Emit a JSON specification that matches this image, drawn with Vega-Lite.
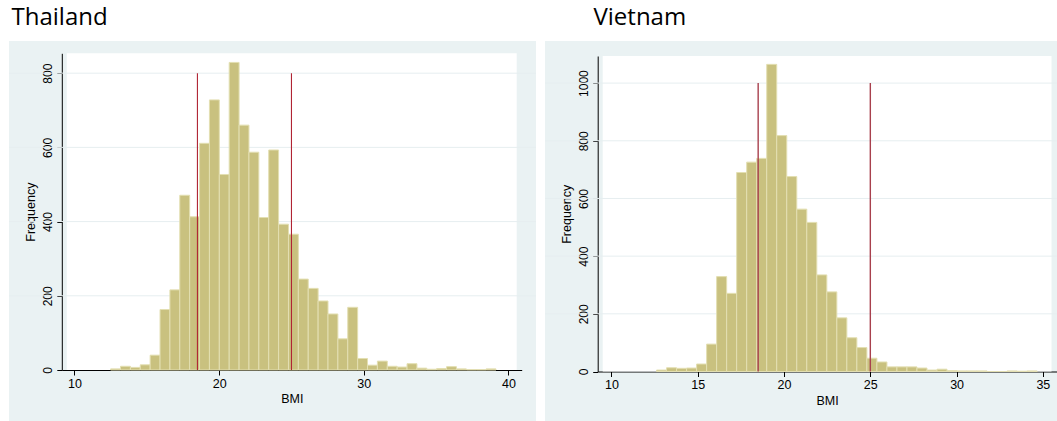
{
  "$schema": "https://vega.github.io/schema/vega-lite/v6.json",
  "background": "white",
  "padding": {"left": 8, "top": 6, "right": 0, "bottom": 0},
  "spacing": 9,
  "bounds": "flush",
  "config": {
    "font": "Liberation Sans",
    "view": {"stroke": null},
    "axis": {
      "grid": false,
      "domainColor": "#000000",
      "domainWidth": 1,
      "tickColor": "#000000",
      "tickSize": 5,
      "tickWidth": 1,
      "labelFont": "Liberation Sans",
      "labelFontSize": 12.5,
      "labelColor": "#000000",
      "labelPadding": 2,
      "labelFlush": false,
      "labelOverlap": false,
      "titleFont": "Liberation Sans",
      "titleFontSize": 12.5,
      "titleFontWeight": "normal",
      "titleColor": "#000000",
      "titlePadding": 3
    },
    "axisY": {"labelAngle": 270, "labelAlign": "center", "labelBaseline": "bottom", "labelFontSize": 12, "titlePadding": 4, "format": "d"},
    "title": {"font": "Open Sans", "fontSize": 24, "fontWeight": "normal", "color": "#000000", "anchor": "start", "baseline": "alphabetic", "offset": 11}
  },
  "hconcat": [
    {
      "width": 527,
      "height": 380,
      "view": {"fill": "#EAF2F3", "stroke": null},
      "title": {"text": "Thailand", "dx": 3},
      "layer": [
        {
          "data": {"values": [{"bmi_min": 9.47, "bmi_max": 40.57, "freq_min": 0, "freq_max": 853.6}]},
          "mark": {"type": "rect", "fill": "#FFFFFF"},
          "encoding": {
            "x": {"field": "bmi_min", "type": "quantitative", "title": "BMI",
                  "scale": {"domain": [9.47, 40.57], "range": [52.8, 512.7], "nice": false, "zero": false},
                  "axis": {"values": [10, 20, 30, 40], "offset": -51}},
            "x2": {"field": "bmi_max"},
            "y": {"field": "freq_min", "type": "quantitative", "title": "Frequency",
                  "scale": {"domain": [0, 853.6], "range": [329, 12.3], "nice": false, "zero": false},
                  "axis": {"values": [0, 200, 400, 600, 800], "offset": -52.8}},
            "y2": {"field": "freq_max"}
          }
        },
        {
          "data": {"values": [{"frequency": 200}, {"frequency": 400}, {"frequency": 600}, {"frequency": 800}]},
          "mark": {"type": "rule", "color": "#E6EEF0", "strokeWidth": 1},
          "encoding": {
            "y": {"field": "frequency", "type": "quantitative"}
          }
        },
        {
          "data": {"values": [
            {"bmi_from": 12.500, "bmi_to": 13.183, "frequency": 3},
            {"bmi_from": 13.183, "bmi_to": 13.866, "frequency": 10},
            {"bmi_from": 13.866, "bmi_to": 14.549, "frequency": 7},
            {"bmi_from": 14.549, "bmi_to": 15.232, "frequency": 14},
            {"bmi_from": 15.232, "bmi_to": 15.915, "frequency": 40},
            {"bmi_from": 15.915, "bmi_to": 16.598, "frequency": 163},
            {"bmi_from": 16.598, "bmi_to": 17.281, "frequency": 216},
            {"bmi_from": 17.281, "bmi_to": 17.964, "frequency": 471},
            {"bmi_from": 17.964, "bmi_to": 18.647, "frequency": 413},
            {"bmi_from": 18.647, "bmi_to": 19.330, "frequency": 611},
            {"bmi_from": 19.330, "bmi_to": 20.013, "frequency": 728},
            {"bmi_from": 20.013, "bmi_to": 20.696, "frequency": 527},
            {"bmi_from": 20.696, "bmi_to": 21.379, "frequency": 829},
            {"bmi_from": 21.379, "bmi_to": 22.062, "frequency": 660},
            {"bmi_from": 22.062, "bmi_to": 22.745, "frequency": 587},
            {"bmi_from": 22.745, "bmi_to": 23.428, "frequency": 411},
            {"bmi_from": 23.428, "bmi_to": 24.111, "frequency": 593},
            {"bmi_from": 24.111, "bmi_to": 24.794, "frequency": 393},
            {"bmi_from": 24.794, "bmi_to": 25.477, "frequency": 366},
            {"bmi_from": 25.477, "bmi_to": 26.160, "frequency": 245},
            {"bmi_from": 26.160, "bmi_to": 26.843, "frequency": 220},
            {"bmi_from": 26.843, "bmi_to": 27.526, "frequency": 186},
            {"bmi_from": 27.526, "bmi_to": 28.209, "frequency": 151},
            {"bmi_from": 28.209, "bmi_to": 28.892, "frequency": 84},
            {"bmi_from": 28.892, "bmi_to": 29.575, "frequency": 169},
            {"bmi_from": 29.575, "bmi_to": 30.258, "frequency": 31},
            {"bmi_from": 30.258, "bmi_to": 30.941, "frequency": 13},
            {"bmi_from": 30.941, "bmi_to": 31.624, "frequency": 24},
            {"bmi_from": 31.624, "bmi_to": 32.307, "frequency": 10},
            {"bmi_from": 32.307, "bmi_to": 32.990, "frequency": 8},
            {"bmi_from": 32.990, "bmi_to": 33.673, "frequency": 17},
            {"bmi_from": 33.673, "bmi_to": 34.356, "frequency": 5},
            {"bmi_from": 34.356, "bmi_to": 35.039, "frequency": 2},
            {"bmi_from": 35.039, "bmi_to": 35.722, "frequency": 4},
            {"bmi_from": 35.722, "bmi_to": 36.405, "frequency": 9},
            {"bmi_from": 36.405, "bmi_to": 37.088, "frequency": 3},
            {"bmi_from": 37.088, "bmi_to": 37.771, "frequency": 1},
            {"bmi_from": 37.771, "bmi_to": 38.454, "frequency": 1},
            {"bmi_from": 38.454, "bmi_to": 39.137, "frequency": 3}
          ]},
          "mark": {"type": "bar", "orient": "vertical", "fill": "#C9C17F", "stroke": "#E3DFB2", "strokeWidth": 1},
          "encoding": {
            "x": {"field": "bmi_from", "type": "quantitative"},
            "x2": {"field": "bmi_to"},
            "y": {"field": "frequency", "type": "quantitative", "stack": "zero"}
          }
        },
        {
          "data": {"values": [{"cutoff": 18.5, "from": 0, "to": 800}, {"cutoff": 25, "from": 0, "to": 800}]},
          "mark": {"type": "rule", "color": "#B02434", "strokeWidth": 1.1},
          "encoding": {
            "x": {"field": "cutoff", "type": "quantitative"},
            "y": {"field": "from", "type": "quantitative"},
            "y2": {"field": "to"}
          }
        }
      ]
    },
    {
      "width": 513,
      "height": 380,
      "view": {"fill": "#EAF2F3", "stroke": null},
      "title": {"text": "Vietnam", "dx": 49},
      "layer": [
        {
          "data": {"values": [{"bmi_min": 9.49, "bmi_max": 35.5, "freq_min": 0, "freq_max": 1094}]},
          "mark": {"type": "rect", "fill": "#FFFFFF"},
          "encoding": {
            "x": {"field": "bmi_min", "type": "quantitative", "title": "BMI",
                  "scale": {"domain": [9.49, 35.5], "range": [52.7, 511.5], "nice": false, "zero": false},
                  "axis": {"values": [10, 15, 20, 25, 30, 35], "offset": -49.5}},
            "x2": {"field": "bmi_max"},
            "y": {"field": "freq_min", "type": "quantitative", "title": "Frequency",
                  "scale": {"domain": [0, 1094], "range": [330.5, 15], "nice": false, "zero": false},
                  "axis": {"values": [0, 200, 400, 600, 800, 1000], "offset": -52.7}},
            "y2": {"field": "freq_max"}
          }
        },
        {
          "data": {"values": [{"frequency": 200}, {"frequency": 400}, {"frequency": 600}, {"frequency": 800}, {"frequency": 1000}]},
          "mark": {"type": "rule", "color": "#E6EEF0", "strokeWidth": 1},
          "encoding": {
            "y": {"field": "frequency", "type": "quantitative"}
          }
        },
        {
          "data": {"values": [
            {"bmi_from": 12.610, "bmi_to": 13.191, "frequency": 5},
            {"bmi_from": 13.191, "bmi_to": 13.771, "frequency": 13},
            {"bmi_from": 13.771, "bmi_to": 14.352, "frequency": 11},
            {"bmi_from": 14.352, "bmi_to": 14.932, "frequency": 12},
            {"bmi_from": 14.932, "bmi_to": 15.513, "frequency": 26},
            {"bmi_from": 15.513, "bmi_to": 16.093, "frequency": 95},
            {"bmi_from": 16.093, "bmi_to": 16.674, "frequency": 329},
            {"bmi_from": 16.674, "bmi_to": 17.254, "frequency": 271},
            {"bmi_from": 17.254, "bmi_to": 17.835, "frequency": 690},
            {"bmi_from": 17.835, "bmi_to": 18.415, "frequency": 726},
            {"bmi_from": 18.415, "bmi_to": 18.996, "frequency": 739},
            {"bmi_from": 18.996, "bmi_to": 19.576, "frequency": 1065},
            {"bmi_from": 19.576, "bmi_to": 20.157, "frequency": 818},
            {"bmi_from": 20.157, "bmi_to": 20.737, "frequency": 676},
            {"bmi_from": 20.737, "bmi_to": 21.318, "frequency": 563},
            {"bmi_from": 21.318, "bmi_to": 21.898, "frequency": 517},
            {"bmi_from": 21.898, "bmi_to": 22.479, "frequency": 335},
            {"bmi_from": 22.479, "bmi_to": 23.059, "frequency": 276},
            {"bmi_from": 23.059, "bmi_to": 23.640, "frequency": 186},
            {"bmi_from": 23.640, "bmi_to": 24.220, "frequency": 117},
            {"bmi_from": 24.220, "bmi_to": 24.801, "frequency": 83},
            {"bmi_from": 24.801, "bmi_to": 25.381, "frequency": 46},
            {"bmi_from": 25.381, "bmi_to": 25.962, "frequency": 33},
            {"bmi_from": 25.962, "bmi_to": 26.542, "frequency": 16},
            {"bmi_from": 26.542, "bmi_to": 27.123, "frequency": 16},
            {"bmi_from": 27.123, "bmi_to": 27.703, "frequency": 16},
            {"bmi_from": 27.703, "bmi_to": 28.284, "frequency": 12},
            {"bmi_from": 28.284, "bmi_to": 28.864, "frequency": 5},
            {"bmi_from": 28.864, "bmi_to": 29.445, "frequency": 8},
            {"bmi_from": 29.445, "bmi_to": 30.025, "frequency": 3},
            {"bmi_from": 30.025, "bmi_to": 30.606, "frequency": 2},
            {"bmi_from": 30.606, "bmi_to": 31.186, "frequency": 2},
            {"bmi_from": 31.186, "bmi_to": 31.767, "frequency": 2},
            {"bmi_from": 31.767, "bmi_to": 32.347, "frequency": 0},
            {"bmi_from": 32.347, "bmi_to": 32.928, "frequency": 0},
            {"bmi_from": 32.928, "bmi_to": 33.508, "frequency": 2},
            {"bmi_from": 33.508, "bmi_to": 34.089, "frequency": 1},
            {"bmi_from": 34.089, "bmi_to": 34.669, "frequency": 2}
          ]},
          "mark": {"type": "bar", "orient": "vertical", "fill": "#C9C17F", "stroke": "#E3DFB2", "strokeWidth": 1},
          "encoding": {
            "x": {"field": "bmi_from", "type": "quantitative"},
            "x2": {"field": "bmi_to"},
            "y": {"field": "frequency", "type": "quantitative", "stack": "zero"}
          }
        },
        {
          "data": {"values": [{"cutoff": 18.5, "from": 0, "to": 1000}, {"cutoff": 25, "from": 0, "to": 1000}]},
          "mark": {"type": "rule", "color": "#A8404D", "strokeWidth": 1.4},
          "encoding": {
            "x": {"field": "cutoff", "type": "quantitative"},
            "y": {"field": "from", "type": "quantitative"},
            "y2": {"field": "to"}
          }
        }
      ]
    }
  ]
}
